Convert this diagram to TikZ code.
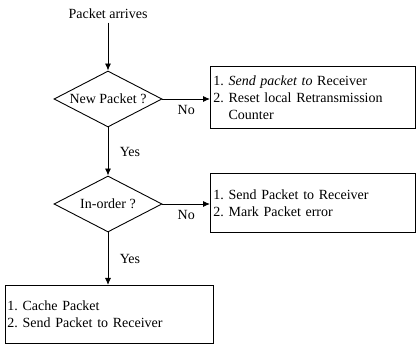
\documentclass[tikz,border=0pt]{standalone}
\usepackage{fontspec}
\setmainfont{Liberation Serif}
\usetikzlibrary{shapes.geometric, arrows.meta}
\frenchspacing

\tikzset{
  decision/.style = {draw, diamond, inner sep = 0, minimum width = 108pt, minimum height = 56pt},
  action/.style = {draw, rectangle, anchor = north west, align = left, inner sep = 3pt},
  flow/.style = {-{Latex[length = 7pt, width = 6pt]}},
}

\begin{document}
\begin{tikzpicture}[x = 1pt, y = -1pt, line width = 0.9pt, font = \fontsize{14}{17}\selectfont]
    \useasboundingbox (0, 0) rectangle (416, 347);

    \node (start) at (108, 14) {Packet arrives};

    \node [decision, label = center:New Packet ?] (new) at (108, 99) {};
    \node [decision, label = center:In-order ?] (order) at (108, 204) {};

    \node [action, text width = 199pt, minimum height = 62pt] (resend) at (210, 66)
      {1. \textit{Send packet to} Receiver\\2. Reset local Retransmission\\\phantom{2. }Counter};
    \node [action, text width = 199pt, minimum height = 59pt] (markerr) at (210, 173)
      {1. Send Packet to Receiver\\2. Mark Packet error};
    \node [action, text width = 204pt, minimum height = 58pt, inner sep = 2pt] (cache) at (5, 285)
      {1. Cache Packet\\2. Send Packet to Receiver};

    \draw [flow] (start) -- (new);
    \draw [flow] (new.east) -- (new.east -| resend.west) node [midway, below = 3pt] {No};
    \draw [flow] (new) -- (order) node [midway, right = 8pt] {Yes};
    \draw [flow] (order.east) -- (order.east -| markerr.west) node [midway, below = 3pt] {No};
    \draw [flow] (order) -- (cache.north -| order) node [midway, right = 8pt] {Yes};
\end{tikzpicture}
\end{document}
